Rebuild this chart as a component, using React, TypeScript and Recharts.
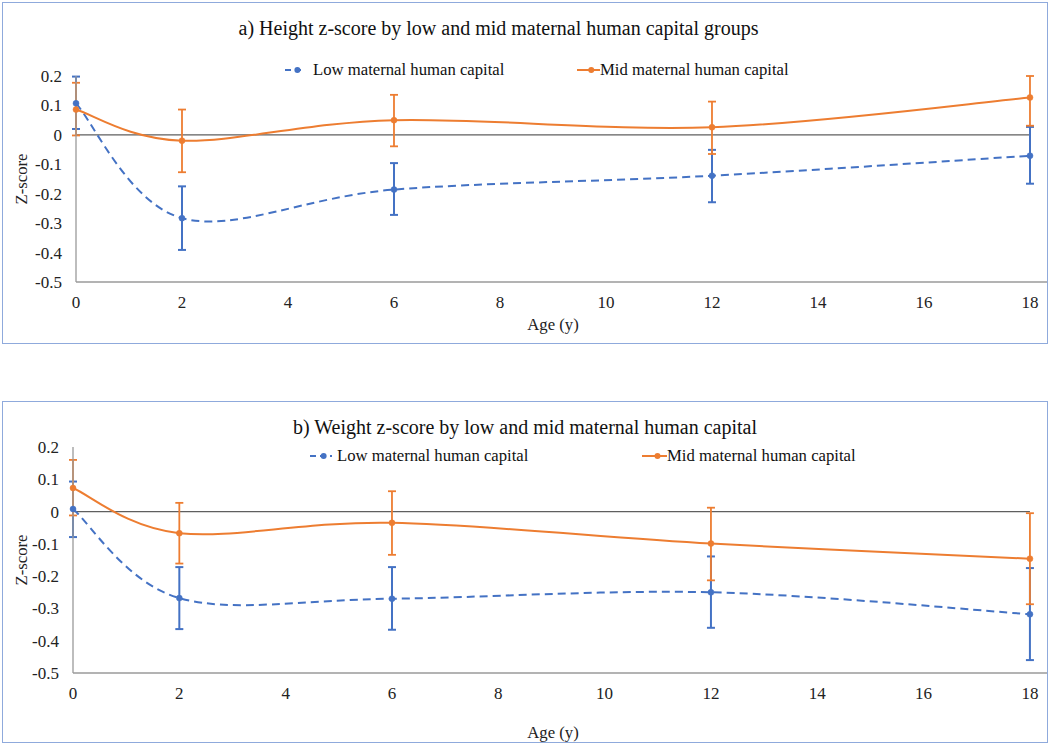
import React from 'react';
import { LineChart, Line, XAxis, YAxis, ErrorBar, ReferenceLine } from 'recharts';

// ---------- data ----------
const ages = [0, 2, 6, 12, 18];
const xTicks = [0, 2, 4, 6, 8, 10, 12, 14, 16, 18];
const yTicks = [0.2, 0.1, 0, -0.1, -0.2, -0.3, -0.4, -0.5];

const heightLow = [0.107, -0.283, -0.186, -0.139, -0.071];
const heightLowCiLow = [0.02, -0.391, -0.272, -0.229, -0.166];
const heightLowCiHigh = [0.198, -0.175, -0.096, -0.051, 0.027];
const heightMid = [0.086, -0.02, 0.05, 0.026, 0.127];
const heightMidCiLow = [-0.002, -0.127, -0.039, -0.065, 0.031];
const heightMidCiHigh = [0.177, 0.086, 0.136, 0.113, 0.2];

const weightLow = [0.008, -0.268, -0.27, -0.25, -0.318];
const weightLowCiLow = [-0.079, -0.364, -0.366, -0.36, -0.46];
const weightLowCiHigh = [0.093, -0.172, -0.172, -0.139, -0.175];
const weightMid = [0.073, -0.067, -0.035, -0.099, -0.146];
const weightMidCiLow = [-0.012, -0.161, -0.134, -0.213, -0.287];
const weightMidCiHigh = [0.16, 0.027, 0.063, 0.012, -0.005];

const LOW_NAME = 'Low maternal human capital';
const MID_NAME = 'Mid maternal human capital';
const TITLE_A = 'a) Height z-score by low and mid maternal human capital groups';
const TITLE_B = 'b) Weight z-score by low and mid maternal human capital';

// ---------- styles ----------
const SERIF = '"Liberation Serif", "Times New Roman", serif';
const BLUE = '#4472C4';
const ORANGE = '#ED7D31';
const AXIS = '#9a9a9a';
const ZERO = '#5f5f5f';
const BORDER = '#8faadc';

const buildRows = (
  low: number[], lowLo: number[], lowHi: number[],
  mid: number[], midLo: number[], midHi: number[]
) =>
  ages.map((age, i) => ({
    age,
    low: low[i],
    lowErr: [low[i] - lowLo[i], lowHi[i] - low[i]],
    mid: mid[i],
    midErr: [mid[i] - midLo[i], midHi[i] - mid[i]],
  }));

// Excel-like smoothed line (Catmull-Rom bezier)
const excelSmooth = (context: any) => {
  let pts: number[][] = [];
  return {
    areaStart() {},
    areaEnd() {},
    lineStart() {
      pts = [];
    },
    point(x: number, y: number) {
      pts.push([+x, +y]);
    },
    lineEnd() {
      const n = pts.length;
      if (!n) return;
      context.moveTo(pts[0][0], pts[0][1]);
      for (let i = 0; i < n - 1; i++) {
        const p0 = pts[Math.max(0, i - 1)];
        const p1 = pts[i];
        const p2 = pts[i + 1];
        const p3 = pts[Math.min(n - 1, i + 2)];
        context.bezierCurveTo(
          p1[0] + (p2[0] - p0[0]) / 6,
          p1[1] + (p2[1] - p0[1]) / 6,
          p2[0] - (p3[0] - p1[0]) / 6,
          p2[1] - (p3[1] - p1[1]) / 6,
          p2[0],
          p2[1]
        );
      }
    },
  };
};

const LegendIcon = ({ color, dashed, width }: { color: string; dashed: boolean; width: number }) => (
  <svg width={width} height={20} style={{ display: 'block' }}>
    <line
      x1={0}
      y1={10}
      x2={width}
      y2={10}
      stroke={color}
      strokeWidth={2}
      strokeDasharray={dashed ? '6 4' : undefined}
    />
    <circle cx={width * 0.62} cy={10} r={3} fill={color} />
  </svg>
);

type PanelProps = {
  top: number;
  chartH: number;
  marginTop: number;
  marginBottom: number;
  yAxisW: number;
  border: { top: number; height: number };
  title: string;
  titleCx: number;
  titleCy: number;
  legendCy: number;
  lowIcon: [number, number];
  lowText: number;
  midIcon: [number, number];
  midText: number;
  zLabelY: number;
  ageY: number;
  rows: any[];
};

const Panel = (p: PanelProps) => {
  const tickStyle = { fontFamily: SERIF, fontSize: 17, fill: '#222' };
  return (
    <div style={{ position: 'absolute', left: 0, top: p.top, width: 1052, height: p.chartH }}>
      <LineChart
        width={1052}
        height={p.chartH}
        data={p.rows}
        margin={{ top: p.marginTop, right: 4, bottom: p.marginBottom, left: 0 }}
      >
        <XAxis
          dataKey="age"
          type="number"
          domain={[0, 18.34]}
          ticks={xTicks}
          interval={0}
          tickLine={false}
          tickSize={0}
          tickMargin={14}
          height={50}
          axisLine={{ stroke: AXIS, strokeWidth: 1.3 }}
          tick={tickStyle}
          label={{
            content: () => (
              <text
                x={553}
                y={p.ageY}
                textAnchor="middle"
                dominantBaseline="central"
                style={{ fontFamily: SERIF, fontSize: 16.7, fill: '#222' }}
              >
                Age (y)
              </text>
            ),
          }}
        />
        <YAxis
          type="number"
          domain={[-0.5, 0.2]}
          ticks={yTicks}
          interval={0}
          width={p.yAxisW}
          tickLine={false}
          tickSize={0}
          tickMargin={14}
          axisLine={{ stroke: AXIS, strokeWidth: 1.3 }}
          tick={tickStyle}
          tickFormatter={(v: number) => String(Math.round(v * 10) / 10)}
          label={{
            content: () => (
              <text
                x={21}
                y={p.zLabelY}
                transform={`rotate(-90 21 ${p.zLabelY})`}
                textAnchor="middle"
                dominantBaseline="central"
                style={{ fontFamily: SERIF, fontSize: 16.7, fill: '#222' }}
              >
                Z-score
              </text>
            ),
          }}
        />
        <ReferenceLine
          segment={[
            { x: 0, y: 0 },
            { x: 18, y: 0 },
          ]}
          stroke={ZERO}
          strokeWidth={1.3}
          ifOverflow="visible"
        />
        <Line
          dataKey="low"
          name={LOW_NAME}
          type={excelSmooth as any}
          stroke={BLUE}
          strokeWidth={2}
          strokeDasharray="8 5"
          dot={{ r: 3, fill: BLUE, stroke: BLUE, strokeWidth: 0.5, strokeDasharray: '0' }}
          activeDot={false}
          isAnimationActive={false}
        >
          <ErrorBar dataKey="lowErr" direction="y" width={4} stroke={BLUE} strokeWidth={2} isAnimationActive={false} />
        </Line>
        <Line
          dataKey="mid"
          name={MID_NAME}
          type={excelSmooth as any}
          stroke={ORANGE}
          strokeWidth={2}
          dot={{ r: 3, fill: ORANGE, stroke: ORANGE, strokeWidth: 0.5 }}
          activeDot={false}
          isAnimationActive={false}
        >
          <ErrorBar dataKey="midErr" direction="y" width={4} stroke={ORANGE} strokeWidth={1.8} isAnimationActive={false} />
        </Line>
      </LineChart>

      {/* frame */}
      <div
        style={{
          position: 'absolute',
          left: 2,
          top: p.border.top,
          width: 1046,
          height: p.border.height,
          border: `1.5px solid ${BORDER}`,
          boxSizing: 'border-box',
          pointerEvents: 'none',
        }}
      />

      {/* title */}
      <div
        style={{
          position: 'absolute',
          left: p.titleCx - 400,
          width: 800,
          top: p.titleCy - 12,
          lineHeight: '24px',
          fontSize: 20,
          textAlign: 'center',
          fontFamily: SERIF,
          color: '#111',
          whiteSpace: 'nowrap',
        }}
      >
        {p.title}
      </div>

      {/* legend */}
      <div style={{ position: 'absolute', left: p.lowIcon[0], top: p.legendCy - 10 }}>
        <LegendIcon color={BLUE} dashed width={p.lowIcon[1] - p.lowIcon[0]} />
      </div>
      <div
        style={{
          position: 'absolute',
          left: p.lowText,
          top: p.legendCy - 10,
          lineHeight: '20px',
          fontSize: 16.7,
          fontFamily: SERIF,
          color: '#111',
          whiteSpace: 'nowrap',
        }}
      >
        {LOW_NAME}
      </div>
      <div style={{ position: 'absolute', left: p.midIcon[0], top: p.legendCy - 10 }}>
        <LegendIcon color={ORANGE} dashed={false} width={p.midIcon[1] - p.midIcon[0]} />
      </div>
      <div
        style={{
          position: 'absolute',
          left: p.midText,
          top: p.legendCy - 10,
          lineHeight: '20px',
          fontSize: 16.7,
          fontFamily: SERIF,
          color: '#111',
          whiteSpace: 'nowrap',
        }}
      >
        {MID_NAME}
      </div>
    </div>
  );
};

export default function App() {
  const rowsA = buildRows(heightLow, heightLowCiLow, heightLowCiHigh, heightMid, heightMidCiLow, heightMidCiHigh);
  const rowsB = buildRows(weightLow, weightLowCiLow, weightLowCiHigh, weightMid, weightMidCiLow, weightMidCiHigh);
  return (
    <div
      style={{
        position: 'absolute',
        left: 0,
        top: 0,
        width: 1052,
        height: 746,
        background: '#fff',
        overflow: 'hidden',
        fontFamily: SERIF,
      }}
    >
      <style>{`svg text { font-family: "Liberation Serif", "Times New Roman", serif !important; }`}</style>
      <Panel
        top={0}
        chartH={350}
        marginTop={76}
        marginBottom={18}
        yAxisW={76}
        border={{ top: 2, height: 342 }}
        title={TITLE_A}
        titleCx={498.5}
        titleCy={28}
        legendCy={69.5}
        lowIcon={[285, 305]}
        lowText={313}
        midIcon={[577, 600]}
        midText={600}
        zLabelY={179}
        ageY={324}
        rows={rowsA}
      />
      <Panel
        top={372}
        chartH={374}
        marginTop={75}
        marginBottom={23}
        yAxisW={73}
        border={{ top: 29, height: 342 }}
        title={TITLE_B}
        titleCx={525}
        titleCy={55}
        legendCy={84}
        lowIcon={[310, 332]}
        lowText={337}
        midIcon={[642, 667]}
        midText={667}
        zLabelY={188}
        ageY={360}
        rows={rowsB}
      />
    </div>
  );
}
